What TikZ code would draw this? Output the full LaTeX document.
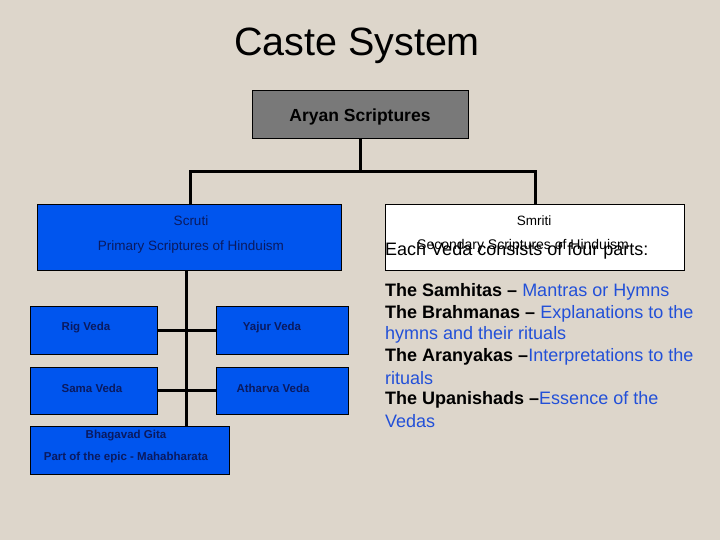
\documentclass[tikz,border=0pt]{standalone}
\usepackage{fontspec}
\setmainfont{Liberation Sans}
\definecolor{bg}{HTML}{DDD6CB}
\definecolor{bx}{HTML}{0055EE}
\definecolor{tx}{HTML}{0A1A60}
\definecolor{bl}{HTML}{2250D8}
\begin{document}
\begin{tikzpicture}[x=1pt,y=-1pt,
  box/.style={draw=black,line width=0.8pt,fill=bx},
  lab/.style={text=tx,font=\fontsize{11.5}{14}\selectfont\bfseries},
  conn/.style={line width=3pt,black},
  rl/.style={anchor=west,font=\fontsize{18}{21}\selectfont,inner sep=0pt}]
\fill[bg] (0,0) rectangle (720,540);
\useasboundingbox (0,0) rectangle (720,540);
\node (title) at (357,46) {\fontsize{39.5}{44}\selectfont Caste System};
\path[draw=black,line width=0.8pt,fill=gray!95!black] (252,90) rectangle (468,138);
\node (ary) at (360,117) {\fontsize{17.5}{20}\selectfont\bfseries Aryan Scriptures};
\path[box] (37,204) rectangle (341,270);
\node[text=tx,font=\fontsize{13.5}{16}\selectfont] (scr) at (191,221) {Scruti};
\node[text=tx,font=\fontsize{13.5}{16}\selectfont] (prim) at (191,247) {Primary Scriptures of Hinduism};
\path[draw=black,line width=0.8pt,fill=white] (385,204) rectangle (684,270);
\node[font=\fontsize{13.5}{16}\selectfont] (smr) at (534,221) {Smriti};
\node[font=\fontsize{14}{16}\selectfont] (sec) at (523,246) {Secondary Scriptures of Hinduism};
\node[anchor=west,inner sep=0pt,font=\fontsize{18}{20}\selectfont] (each) at (385,251) {Each Veda consists of four parts:};
\path[box] (30,306) rectangle (157,354);
\node[lab] (rig) at (86,328) {Rig Veda};
\path[box] (216,306) rectangle (348,354);
\node[lab] (yaj) at (272,328) {Yajur Veda};
\path[box] (30,367) rectangle (157,414);
\node[lab] (sam) at (92,388) {Sama Veda};
\path[box] (216,367) rectangle (348,414);
\node[lab] (ath) at (273,388) {Atharva Veda};
\path[box] (30,426) rectangle (229,474);
\node[lab] (bg1) at (126,436) {Bhagavad Gita};
\node[lab] (bg2) at (126,458) {Part of the epic - Mahabharata};
\draw[conn] (360,138) -- (360,172);
\draw[conn] (190,172) -- (535,172);
\draw[conn] (190,170.5) -- (190,204);
\draw[conn] (535,170.5) -- (535,204);
\draw[conn] (186,270) -- (186,426);
\draw[conn] (157,330) -- (216,330);
\draw[conn] (157,390) -- (216,390);
\node[rl] (l1) at (385,292) {\bfseries The Samhitas – \mdseries\color{bl}Mantras or Hymns};
\node[rl] (l2) at (385,313.5) {\bfseries The Brahmanas – \mdseries\color{bl}Explanations to the};
\node[rl,text=bl] (l3) at (385,335) {hymns and their rituals};
\node[rl] (l4) at (385,356.5) {\bfseries The Aranyakas –\mdseries\color{bl}Interpretations to the};
\node[rl,text=bl] (l5) at (385,378) {rituals};
\node[rl] (l6) at (385,399.5) {\bfseries The Upanishads –\mdseries\color{bl}Essence of the};
\node[rl,text=bl] (l7) at (385,421) {Vedas};
\end{tikzpicture}
\end{document}
